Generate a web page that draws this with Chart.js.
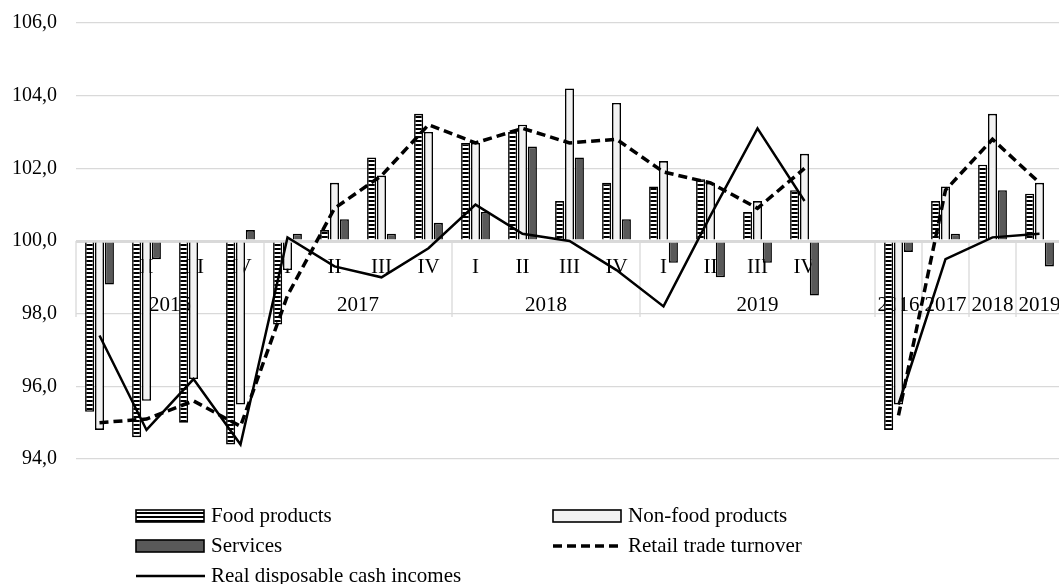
<!DOCTYPE html>
<html>
<head>
<meta charset="utf-8">
<script src="https://cdn.jsdelivr.net/npm/chart.js@4.4.1/dist/chart.umd.min.js"></script>
<style>
  html, body { margin: 0; padding: 0; background: #fff; overflow: hidden; }
  #wrap { width: 1063px; height: 584px; position: relative; }
</style>
</head>
<body>
<div id="wrap"><canvas id="chart"></canvas></div>
<script>
// row 1 (quarters) and row 2 (years) of the category axis
const quarterLabels = ["I","II","III","IV","I","II","III","IV","I","II","III","IV","I","II","III","IV","","","","",""];
const groupLabels = ["2016","2016","2016","2016","2017","2017","2017","2017","2018","2018","2018","2018","2019","2019","2019","2019","2019","2016","2017","2018","2019"];

const food     = [95.3, 94.6, 95.0, 94.4, 97.7, 100.3, 102.3, 103.5, 102.7, 103.0, 101.1, 101.6, 101.5, 101.7, 100.8, 101.4, null, 94.8, 101.1, 102.1, 101.3];
const nonFood  = [94.8, 95.6, 96.2, 95.5, 99.2, 101.6, 101.8, 103.0, 102.7, 103.2, 104.2, 103.8, 102.2, 101.6, 101.1, 102.4, null, 95.5, 101.5, 103.5, 101.6];
const services = [98.8, 99.5, 100.0, 100.3, 100.2, 100.6, 100.2, 100.5, 100.8, 102.6, 102.3, 100.6, 99.4, 99.0, 99.4, 98.5, null, 99.7, 100.2, 101.4, 99.3];
const retail   = [95.0, 95.1, 95.6, 94.9, 98.5, 100.9, 101.8, 103.2, 102.7, 103.1, 102.7, 102.8, 101.9, 101.6, 100.9, 102.0, null, 95.2, 101.4, 102.8, 101.6];
const income   = [97.4, 94.8, 96.2, 94.4, 100.1, 99.3, 99.0, 99.8, 101.0, 100.2, 100.0, 99.2, 98.2, 100.7, 103.1, 101.1, null, 95.5, 99.5, 100.1, 100.2];

const FONT = "'Liberation Serif', 'Times New Roman', serif";
const GRID = "#d9d9d9";

// striped fill for food products
const pc = document.createElement("canvas");
pc.width = 4; pc.height = 4;
const pctx = pc.getContext("2d");
pctx.fillStyle = "#fff"; pctx.fillRect(0, 0, 4, 4);
pctx.fillStyle = "#000"; pctx.fillRect(0, 0, 4, 2);
const stripes = pctx.createPattern(pc, "repeat");

// category axis drawn by hand (two rows with boxes)
const catAxis = {
  id: "catAxis",
  beforeDatasetsDraw(chart) {
    const ctx = chart.ctx, x = chart.scales.x, y = chart.scales.y;
    const base = y.getPixelForValue(100);
    const half = (x.getPixelForValue(1) - x.getPixelForValue(0)) / 2;
    ctx.save();
    ctx.strokeStyle = GRID;
    ctx.lineWidth = 1.3;
    for (let i = 0; i < groupLabels.length; i++) {
      if (i === 0 || groupLabels[i] !== groupLabels[i - 1]) {
        const px = x.getPixelForValue(i) - half;
        ctx.beginPath(); ctx.moveTo(px, base); ctx.lineTo(px, base + 76); ctx.stroke();
      }
    }
    ctx.fillStyle = "#000";
    ctx.font = "21px " + FONT;
    ctx.textAlign = "center";
    ctx.textBaseline = "middle";
    quarterLabels.forEach((q, i) => {
      if (q) ctx.fillText(q, x.getPixelForValue(i), base + 26);
    });
    let start = 0;
    for (let i = 1; i <= groupLabels.length; i++) {
      if (i === groupLabels.length || groupLabels[i] !== groupLabels[start]) {
        const cx = (x.getPixelForValue(start) + x.getPixelForValue(i - 1)) / 2;
        ctx.fillText(groupLabels[start], cx, base + 64);
        start = i;
      }
    }
    ctx.restore();
  }
};

// legend in two columns under the plot
const legendBox = {
  id: "legendBox",
  afterDraw(chart) {
    const ctx = chart.ctx;
    const items = [
      { text: "Food products", kind: "box", fill: stripes, x: 136, y: 516 },
      { text: "Non-food products", kind: "box", fill: "#f2f2f2", x: 553, y: 516 },
      { text: "Services", kind: "box", fill: "#595959", x: 136, y: 546 },
      { text: "Retail trade turnover", kind: "dash", x: 553, y: 546 },
      { text: "Real disposable cash incomes", kind: "line", x: 136, y: 576 }
    ];
    ctx.save();
    ctx.font = "21px " + FONT;
    ctx.textBaseline = "middle";
    items.forEach(it => {
      if (it.kind === "box") {
        ctx.fillStyle = it.fill;
        ctx.fillRect(it.x, it.y - 6, 68, 12);
        ctx.strokeStyle = "#000"; ctx.lineWidth = 1.6;
        ctx.strokeRect(it.x, it.y - 6, 68, 12);
      } else {
        ctx.strokeStyle = "#000";
        ctx.lineWidth = it.kind === "dash" ? 3.5 : 2.5;
        ctx.setLineDash(it.kind === "dash" ? [9, 5] : []);
        ctx.beginPath(); ctx.moveTo(it.x, it.y); ctx.lineTo(it.x + 69, it.y); ctx.stroke();
        ctx.setLineDash([]);
      }
      ctx.fillStyle = "#000";
      ctx.fillText(it.text, it.x + 75, it.y);
    });
    ctx.restore();
  }
};

const barStyle = { type: "bar", base: 100, borderColor: "#000", borderWidth: 1.6, order: 1,
  barPercentage: 0.92, categoryPercentage: 0.63 };

new Chart("chart", {
  data: {
    labels: quarterLabels.map((q, i) => groupLabels[i] + " " + q),
    datasets: [
      Object.assign({ label: "Food products", data: food, backgroundColor: stripes }, barStyle),
      Object.assign({ label: "Non-food products", data: nonFood, backgroundColor: "#f2f2f2" }, barStyle),
      Object.assign({ label: "Services", data: services, backgroundColor: "#595959" }, barStyle),
      { type: "line", label: "Retail trade turnover", data: retail, borderColor: "#000", borderWidth: 3.5,
        borderDash: [9, 5], pointRadius: 0, tension: 0, spanGaps: false, order: 0 },
      { type: "line", label: "Real disposable cash incomes", data: income, borderColor: "#000", borderWidth: 2.5,
        pointRadius: 0, tension: 0, spanGaps: false, order: 0 }
    ]
  },
  options: {
    responsive: true,
    maintainAspectRatio: false,
    animation: false,
    layout: { padding: { top: 23, bottom: 125, left: 0, right: 0 } },
    plugins: { legend: { display: false }, tooltip: { enabled: false } },
    scales: {
      x: { display: false, offset: true },
      y: {
        min: 94, max: 106,
        afterFit(s) { s.width = 76; s.paddingTop = 0; s.paddingBottom = 0; },
        ticks: { stepSize: 2, padding: 19, color: "#000", font: { family: FONT, size: 20 },
          callback: v => v.toFixed(1).replace(".", ",") },
        grid: { color: GRID, drawTicks: false, lineWidth: c => c.tick && c.tick.value === 100 ? 3 : 1.3 },
        border: { display: false }
      }
    }
  },
  plugins: [catAxis, legendBox]
});
</script>
</body>
</html>
